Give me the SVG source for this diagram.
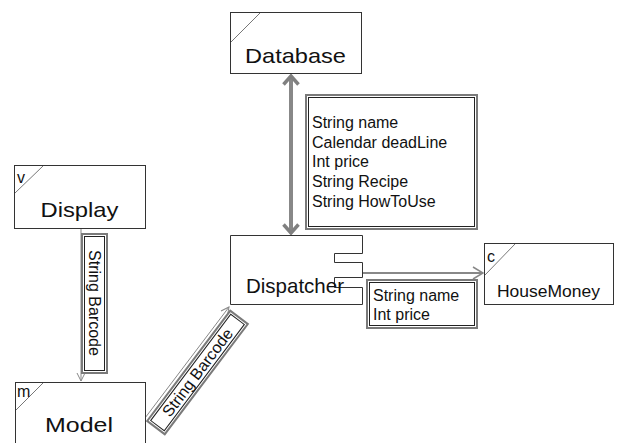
<svg xmlns="http://www.w3.org/2000/svg" width="617" height="443" viewBox="0 0 617 443">
<style>
.box{fill:#fff;stroke:#333;stroke-width:1}
.corner{stroke:#777;stroke-width:1;fill:none}
.title{font-family:"Liberation Sans",Arial,sans-serif;font-size:21px;fill:#111}
.tag{font-family:"Liberation Sans",Arial,sans-serif;font-size:16px;fill:#111}
.lbl{font-family:"Liberation Sans",Arial,sans-serif;font-size:16px;fill:#111}
.nout{fill:#fff;stroke:#7a7a7a;stroke-width:2}
.nin{fill:none;stroke:#222;stroke-width:1}
.conn{fill:none;stroke:#888}
</style>
<defs>
<marker id="chevThick" viewBox="0 0 12 18" refX="10" refY="9" markerWidth="12" markerHeight="18" markerUnits="userSpaceOnUse" orient="auto-start-reverse">
<path d="M1.5,1.5 L10,9 L1.5,16.5" fill="none" stroke="#808080" stroke-width="3.5"/>
</marker>
<marker id="chev" viewBox="0 0 12 14" refX="11" refY="7" markerWidth="12" markerHeight="14" markerUnits="userSpaceOnUse" orient="auto">
<path d="M1,1 L11,7 L1,13" fill="none" stroke="#888" stroke-width="1.5"/>
</marker>
<marker id="chevS" viewBox="0 0 10 10" refX="9" refY="5" markerWidth="10" markerHeight="10" markerUnits="userSpaceOnUse" orient="auto">
<path d="M1,1 L9,5 L1,9" fill="none" stroke="#888" stroke-width="1"/>
</marker>
</defs>

<g id="connectors">
<line class="conn" x1="291" y1="76" x2="291" y2="233" stroke="#808080" stroke-width="4" marker-start="url(#chevThick)" marker-end="url(#chevThick)"/>
<line class="conn" x1="81" y1="228" x2="81" y2="381" stroke-width="1" marker-end="url(#chevS)"/>
<line class="conn" x1="145" y1="418" x2="229" y2="307" stroke-width="1" marker-end="url(#chevS)"/>
<line class="conn" x1="362" y1="273" x2="483" y2="273" stroke-width="2" marker-end="url(#chev)"/>

<g id="label-db">
<rect class="nout" x="306" y="95" width="171" height="134"/>
<rect class="nin" x="308.5" y="97.5" width="166" height="129"/>
<text class="lbl" x="312" y="128">String name</text>
<text class="lbl" x="312" y="147.7">Calendar deadLine</text>
<text class="lbl" x="312" y="167.4">Int price</text>
<text class="lbl" x="312" y="187.1">String Recipe</text>
<text class="lbl" x="312" y="206.8">String HowToUse</text>
</g>

<g id="label-display-model">
<rect class="nout" x="82" y="234" width="25" height="139"/>
<rect class="nin" x="84.5" y="236.5" width="20" height="134"/>
<text class="lbl" transform="translate(94.5,303) rotate(90)" text-anchor="middle" dominant-baseline="central">String Barcode</text>
</g>

<g id="label-model-dispatcher" transform="translate(197.5,372.5) rotate(-53)">
<rect class="nout" x="-69" y="-11" width="138" height="22"/>
<rect class="nin" x="-66.5" y="-8.5" width="133" height="17"/>
<text class="lbl" x="0" y="0" text-anchor="middle" dominant-baseline="central">String Barcode</text>
</g>

<g id="label-dispatcher-housemoney">
<rect class="nout" x="367" y="280" width="110" height="48"/>
<rect class="nin" x="369.5" y="282.5" width="105" height="43"/>
<text class="lbl" x="373" y="301">String name</text>
<text class="lbl" x="373" y="320">Int price</text>
</g>
</g>

<g id="Database">
<rect class="box" x="230.5" y="12.5" width="131" height="61"/>
<line class="corner" x1="231" y1="42" x2="260" y2="13"/>
<text class="title" x="295.5" y="63" text-anchor="middle" textLength="101" lengthAdjust="spacingAndGlyphs">Database</text>
</g>

<g id="Display">
<rect class="box" x="14.5" y="165.5" width="131" height="63"/>
<line class="corner" x1="15" y1="193" x2="43" y2="166"/>
<text class="tag" x="17" y="183">v</text>
<text class="title" x="79.5" y="217" text-anchor="middle" textLength="78" lengthAdjust="spacingAndGlyphs">Display</text>
</g>

<g id="Model">
<rect class="box" x="15.5" y="382.5" width="130" height="64"/>
<line class="corner" x1="16" y1="410" x2="43" y2="383"/>
<text class="tag" x="17" y="397">m</text>
<text class="title" x="79" y="432" text-anchor="middle" textLength="68" lengthAdjust="spacingAndGlyphs">Model</text>
</g>

<g id="Dispatcher">
<path class="box" d="M230.5,235.5 H362.5 V253.5 H334.5 V262.5 H362.5 V277.5 H334.5 V287.5 H362.5 V304.5 H230.5 Z"/>
<text class="title" x="246" y="293" textLength="98" lengthAdjust="spacingAndGlyphs">Dispatcher</text>
</g>

<g id="HouseMoney">
<rect class="box" x="484.5" y="243.5" width="129" height="61"/>
<line class="corner" x1="485" y1="275" x2="515" y2="244"/>
<text class="tag" x="487" y="262">c</text>
<text class="title" x="497" y="297" style="font-size:17px" textLength="103" lengthAdjust="spacingAndGlyphs">HouseMoney</text>
</g>
</svg>
